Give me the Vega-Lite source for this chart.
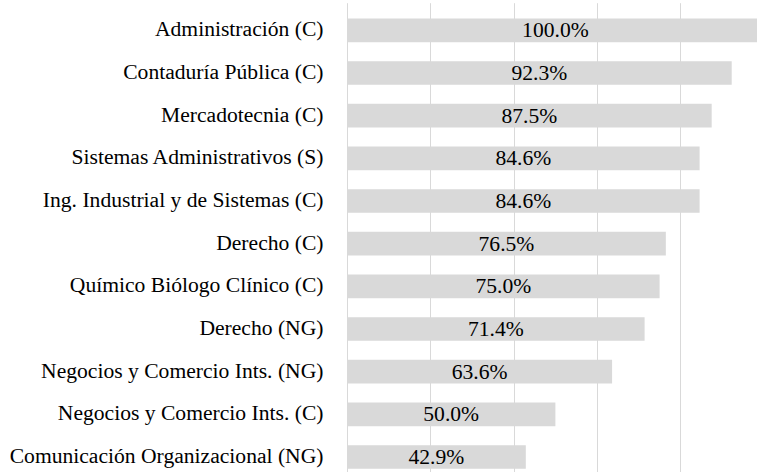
{
  "$schema": "https://vega.github.io/schema/vega-lite/v6.json",
  "autosize": "none",
  "width": 410,
  "height": 463,
  "padding": {"left": 347, "top": 9, "right": 0, "bottom": 0},
  "background": "white",
  "config": {"view": {"stroke": null}, "font": "Liberation Serif"},
  "data": {"values": [
    {"carrera": "Administración (C)", "valor": 1.0},
    {"carrera": "Contaduría Pública (C)", "valor": 0.923},
    {"carrera": "Mercadotecnia (C)", "valor": 0.875},
    {"carrera": "Sistemas Administrativos (S)", "valor": 0.846},
    {"carrera": "Ing. Industrial y de Sistemas (C)", "valor": 0.846},
    {"carrera": "Derecho (C)", "valor": 0.765},
    {"carrera": "Químico Biólogo Clínico (C)", "valor": 0.75},
    {"carrera": "Derecho (NG)", "valor": 0.714},
    {"carrera": "Negocios y Comercio Ints. (NG)", "valor": 0.636},
    {"carrera": "Negocios y Comercio Ints. (C)", "valor": 0.5},
    {"carrera": "Comunicación Organizacional (NG)", "valor": 0.429}
  ]},
  "encoding": {
    "y": {
      "field": "carrera", "type": "nominal", "sort": null, "title": null,
      "scale": {"range": [0, 469.3], "paddingInner": 0.445, "paddingOuter": 0.2225},
      "axis": {"ticks": false, "domain": false, "grid": false, "labelPadding": 24, "labelFontSize": 21.6, "labelFont": "Liberation Serif", "labelColor": "#000000", "labelLimit": 0}
    }
  },
  "layer": [
    {
      "mark": {"type": "bar", "color": "#d9d9d9", "clip": true},
      "encoding": {
        "x": {
          "field": "valor", "type": "quantitative", "title": null,
          "scale": {"domain": [0, 0.9837], "nice": false, "zero": true},
          "axis": {"values": [0, 0.2, 0.4, 0.6, 0.8, 1.0], "labels": false, "ticks": false, "domain": false, "grid": true, "gridColor": "#d9d9d9", "gridWidth": 1}
        },
        "x2": {"datum": 0}
      }
    },
    {
      "transform": [{"calculate": "datum.valor / 2", "as": "centro"}],
      "mark": {"type": "text", "fontSize": 21.6, "font": "Liberation Serif", "color": "#000000", "align": "center", "baseline": "middle", "dy": 1},
      "encoding": {
        "x": {"field": "centro", "type": "quantitative"},
        "text": {"field": "valor", "type": "quantitative", "format": ".1%"}
      }
    }
  ]
}
